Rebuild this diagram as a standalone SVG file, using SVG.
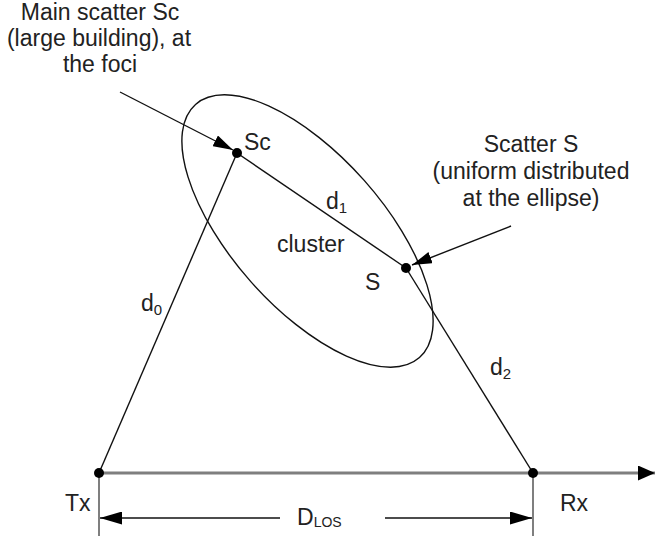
<svg xmlns="http://www.w3.org/2000/svg" width="655" height="540" viewBox="0 0 655 540">
<defs>
<style>
text{font-family:"Liberation Sans",Arial,sans-serif;font-size:23px;fill:#222}
.ln{stroke:#111;stroke-width:1.4;fill:none}
.gray{stroke:#7f7f7f;fill:none}
.dot{fill:#000}
.sub{font-size:15px}
</style>
<marker id="ah" viewBox="0 0 20 12" refX="20" refY="6" markerWidth="20" markerHeight="12" markerUnits="userSpaceOnUse" orient="auto">
<path d="M0,0 L20,6 L0,12 z" fill="#000"/>
</marker>
<marker id="ahDim" viewBox="0 0 22 13" refX="22" refY="6.5" markerWidth="22" markerHeight="13" markerUnits="userSpaceOnUse" orient="auto">
<path d="M0,0 L22,6.5 L0,13 z" fill="#000"/>
</marker>
<marker id="ahAxis" viewBox="0 0 17 15" refX="17" refY="7.5" markerWidth="17" markerHeight="15" markerUnits="userSpaceOnUse" orient="auto">
<path d="M0,0 L17,7.5 L0,15 z" fill="#000"/>
</marker>
</defs>
<rect width="655" height="540" fill="#fff"/>

<g id="cluster">
<ellipse class="ln" cx="307.5" cy="231" rx="169" ry="76" transform="rotate(48.5 307.5 231)"/>
<text x="277" y="252">cluster</text>
</g>

<g id="connectors">
<line class="gray" x1="99" y1="473" x2="655" y2="473" stroke-width="3" marker-end="url(#ahAxis)"/>
<line class="gray" x1="99" y1="473" x2="99" y2="536" stroke-width="2"/>
<line class="gray" x1="533" y1="473" x2="533" y2="536" stroke-width="2"/>
<line class="ln" x1="280" y1="518" x2="100" y2="518" marker-end="url(#ahDim)"/>
<line class="ln" x1="385" y1="518" x2="532" y2="518" marker-end="url(#ahDim)"/>
<line id="d0" class="ln" x1="99" y1="473" x2="237" y2="153"/>
<line id="d1" class="ln" x1="237" y1="153" x2="406" y2="268"/>
<line id="d2" class="ln" x1="406" y1="268" x2="533" y2="473"/>
<line class="ln" x1="120" y1="92" x2="233" y2="150" marker-end="url(#ah)"/>
<line class="ln" x1="511" y1="226" x2="412" y2="265" marker-end="url(#ah)"/>
</g>

<g id="Sc">
<circle class="dot" cx="237" cy="153" r="5"/>
<text x="244" y="150">Sc</text>
</g>
<g id="S">
<circle class="dot" cx="406" cy="268" r="5"/>
<text x="365" y="290">S</text>
</g>
<g id="Tx">
<circle class="dot" cx="99" cy="473" r="5"/>
<text x="65" y="511">Tx</text>
</g>
<g id="Rx">
<circle class="dot" cx="533" cy="473" r="5"/>
<text x="560" y="511">Rx</text>
</g>

<g id="labels">
<text x="100" y="20" text-anchor="middle">Main scatter Sc</text>
<text x="99" y="46" text-anchor="middle">(large building), at</text>
<text x="100" y="72" text-anchor="middle">the foci</text>
<text x="531" y="152" text-anchor="middle">Scatter S</text>
<text x="531" y="179" text-anchor="middle">(uniform distributed</text>
<text x="531" y="206" text-anchor="middle">at the ellipse)</text>
<text x="141" y="311">d<tspan class="sub" dy="4">0</tspan></text>
<text x="326" y="209">d<tspan class="sub" dy="4">1</tspan></text>
<text x="490" y="375">d<tspan class="sub" dy="4">2</tspan></text>
<text x="297" y="525" font-size="21">D<tspan font-size="14" dy="2">LOS</tspan></text>
</g>
</svg>
